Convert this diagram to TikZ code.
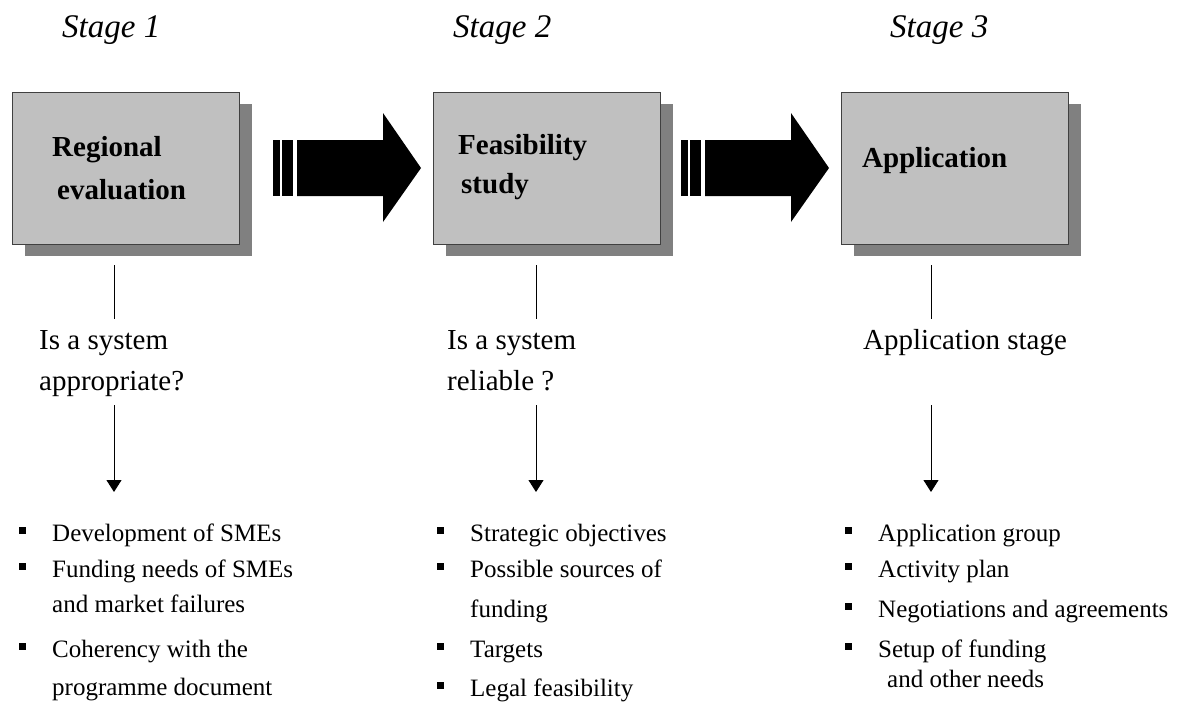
\documentclass[tikz,border=0pt]{standalone}
\usepackage{fontspec}
\setmainfont{Liberation Serif}
\usetikzlibrary{arrows.meta,shadows}
\definecolor{boxgray}{HTML}{C0C0C0}
\definecolor{shadowgray}{HTML}{808080}
\definecolor{edgegray}{HTML}{404040}
\newcommand{\sqbullet}{\llap{\rule[7pt]{7pt}{7pt}\hspace{26pt}}}
% striped block arrow, given its left end
\newcommand{\stagearrow}[1]{%
  \begin{scope}[xshift=#1pt]
    \fill (0,140) rectangle (7,196);
    \fill (9,140) rectangle (20,196);
    \fill (24,140) -- (110,140) -- (110,113) -- (148,168) -- (110,222) -- (110,196) -- (24,196) -- cycle;
  \end{scope}}

\begin{document}
\begin{tikzpicture}[
  x=1pt, y=-1pt,
  stagebox/.style={draw=edgegray, fill=boxgray, minimum width=227pt, minimum height=152pt,
    inner sep=0pt, anchor=north west,
    drop shadow={shadow xshift=13pt, shadow yshift=-12pt, fill=shadowgray, opacity=1}},
  boxtext/.style={anchor=base west, inner sep=0pt, font=\fontsize{29}{34}\selectfont\bfseries},
  stagelabel/.style={anchor=base west, inner sep=0pt, font=\fontsize{33}{38}\selectfont\itshape},
  question/.style={anchor=base west, inner sep=0pt, font=\fontsize{29}{34}\selectfont},
  item/.style={anchor=base west, inner sep=0pt, font=\fontsize{25}{30}\selectfont},
  link/.style={line width=1pt},
  >={Triangle[width=15pt,length=12pt]}
]
\useasboundingbox (0,0) rectangle (1177,702);

% stage headers
\node[stagelabel] (st1) at (62,37) {Stage 1};
\node[stagelabel] (st2) at (453,37) {Stage 2};
\node[stagelabel] (st3) at (890,37) {Stage 3};

% stage boxes
\node[stagebox] (reg) at (12,92) {};
\node[stagebox] (feas) at (433,92) {};
\node[stagebox] (app) at (841,92) {};

\node[boxtext] (regA) at (52,156) {Regional};
\node[boxtext] (regB) at (57,199) {evaluation};
\node[boxtext] (feasA) at (458,154) {Feasibility};
\node[boxtext] (feasB) at (461,193) {study};
\node[boxtext] (appA) at (862,167) {Application};

\stagearrow{273}
\stagearrow{681}

% questions under each stage
\node[question] (q1a) at (39,349) {Is a system};
\node[question] (q1b) at (39,390) {appropriate?};
\node[question] (q2a) at (447,349) {Is a system};
\node[question] (q2b) at (447,390) {reliable ?};
\node[question] (q3a) at (863,349) {Application stage};

\foreach \c/\x in {1/114, 2/536, 3/931} {
  \coordinate (top\c) at (\x,265);
  \coordinate (mid\c) at (\x,319);
  \coordinate (low\c) at (\x,405);
  \coordinate (end\c) at (\x,492);
  \draw[link] (top\c) -- (mid\c);
  \draw[link,->] (low\c) -- (end\c);
}

% stage 1 items
\node[item] (i11) at (52,541) {\sqbullet Development of SMEs};
\node[item] (i12) at (52,577) {\sqbullet Funding needs of SMEs};
\node[item] (i12b) at (52,612) {and market failures};
\node[item] (i13) at (52,657) {\sqbullet Coherency with the};
\node[item] (i13b) at (52,695) {programme document};

% stage 2 items
\node[item] (i21) at (470,541) {\sqbullet Strategic objectives};
\node[item] (i22) at (470,577) {\sqbullet Possible sources of};
\node[item] (i22b) at (470,617) {funding};
\node[item] (i23) at (470,657) {\sqbullet Targets};
\node[item] (i24) at (470,696) {\sqbullet Legal feasibility};

% stage 3 items
\node[item] (i31) at (878,541) {\sqbullet Application group};
\node[item] (i32) at (878,577) {\sqbullet Activity plan};
\node[item] (i33) at (878,617) {\sqbullet Negotiations and agreements};
\node[item] (i34) at (878,657) {\sqbullet Setup of funding};
\node[item] (i34b) at (887,687) {and other needs};
\end{tikzpicture}
\end{document}
